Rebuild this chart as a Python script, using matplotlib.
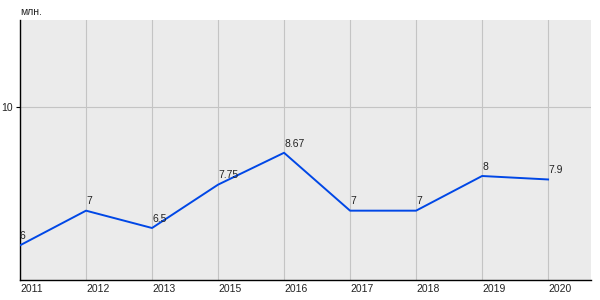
import matplotlib
matplotlib.use("Agg")
import matplotlib.pyplot as plt

years = ["2011", "2012", "2013", "2015", "2016", "2017", "2018", "2019", "2020"]
values = [6, 7, 6.5, 7.75, 8.67, 7, 7, 8, 7.9]
value_labels = ["6", "7", "6.5", "7.75", "8.67", "7", "7", "8", "7.9"]
y_ticks = [10]
unit = "млн."

plt.rcParams['font.family'] = ['Liberation Sans', 'DejaVu Sans']

fig = plt.figure(figsize=(6, 3), dpi=100)
ax = fig.add_axes([20/600, 20/300, 571/600, 260/300])
ax.set_facecolor('#ebebeb')

x = list(range(len(years)))
ax.plot(x, values, color='#0047e6', lw=1.4, zorder=3)

for xi, v, lab in zip(x, values, value_labels):
    ax.annotate(lab, (xi, v), xytext=(0, 3), textcoords='offset points',
                ha='left', va='bottom', fontsize=7.5, color='#222222', zorder=4)

ax.set_xlim(0, 8.65)
ax.set_ylim(5, 12.5)
ax.set_xticks(x)
ax.set_xticklabels(years, fontsize=7.5, ha='left', color='#222222')
ax.set_yticks(y_ticks)
ax.set_yticklabels([str(t) for t in y_ticks], fontsize=7.5, color='#222222')
ax.tick_params(axis='x', length=0, pad=3)
ax.tick_params(axis='y', length=3, width=0.8, pad=2)
ax.grid(True, color='#c4c4c4', lw=0.8, zorder=0)
ax.set_axisbelow(True)

for s in ['top', 'right']:
    ax.spines[s].set_visible(False)
for s in ['left', 'bottom']:
    ax.spines[s].set_color('black')
    ax.spines[s].set_linewidth(1)

fig.text(20/600, 1 - 12/300, unit, fontsize=7.5, ha='left', va='center', color='#222222')

fig.savefig('out.png', dpi=100)
